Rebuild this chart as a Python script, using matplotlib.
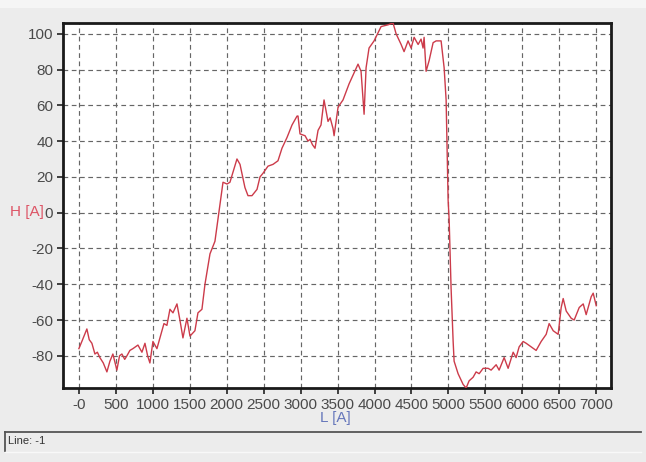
import matplotlib
matplotlib.use("Agg")
import matplotlib.pyplot as plt
from matplotlib.lines import Line2D
from matplotlib.patches import Rectangle

# Profile samples: position L [A] and height H [A]
L_vals = [0, 40, 108, 140, 176, 217, 250, 284, 330, 379, 420, 460, 514, 550, 582,
          620, 650, 690, 731, 799, 853, 894, 930,
          961, 1002, 1056, 1097, 1151, 1191, 1232, 1273, 1327, 1367, 1408, 1462,
          1503, 1570, 1611, 1665, 1706, 1774, 1841, 1950, 2004, 2044, 2139, 2180,
          2247, 2288, 2342, 2410, 2451, 2491, 2559, 2627, 2694, 2748, 2816, 2884,
          2952, 2965, 2992, 3060, 3100, 3128, 3160, 3195, 3236, 3276, 3317, 3371,
          3400, 3439, 3453, 3507, 3574, 3656, 3777, 3818, 3859, 3886, 3926, 3994,
          4089, 4184, 4251, 4292, 4360, 4400, 4454, 4495, 4536, 4590, 4630, 4657,
          4671, 4698, 4739, 4793, 4834, 4901, 4942, 4969, 4996, 5010, 5036, 5064,
          5077, 5131, 5199, 5240, 5280, 5334, 5375, 5416, 5470, 5537, 5578, 5646,
          5686, 5754, 5808, 5876, 5916, 5957, 6011, 6052, 6120, 6187, 6255, 6323,
          6363, 6418, 6485, 6526, 6553, 6594, 6661, 6702, 6770, 6824, 6864, 6932,
          6959, 7000]
H_vals = [-76, -72, -65, -71, -73, -79, -78, -81, -84, -89, -83, -79, -88, -80, -79,
          -82, -80, -77, -76, -74, -78, -73, -80,
          -84, -72, -76, -70, -62, -63, -54, -56, -51, -60, -70, -59,
          -69, -66, -56, -54, -40, -23, -16, 17, 16, 17, 30, 27,
          14, 9.5, 9.5, 13, 20, 22, 26, 27, 29, 36, 42, 49,
          54, 54, 44, 43, 40, 41, 38, 36, 46, 49, 63, 51,
          53, 47, 43, 59, 63, 72, 83, 79, 55, 81, 92, 96,
          104, 105, 106, 100, 94, 90, 96, 92, 98, 94, 97, 92,
          98, 79, 85, 95, 96, 96, 81, 63, 7, -4, -42, -72,
          -83, -90, -96, -98, -94, -92, -89, -90, -87, -87, -88, -85,
          -88, -81, -87, -78, -81, -75, -72, -73, -75, -77, -72, -68,
          -62, -66, -68, -53, -48, -55, -59, -60, -53, -51, -57, -47,
          -45, -52]

x_ticks = [0, 500, 1000, 1500, 2000, 2500, 3000, 3500, 4000, 4500, 5000,
           5500, 6000, 6500, 7000]
x_ticklabels = ["-0", "500", "1000", "1500", "2000", "2500", "3000", "3500",
                "4000", "4500", "5000", "5500", "6000", "6500", "7000"]
y_ticks = [-80, -60, -40, -20, 0, 20, 40, 60, 80, 100]
y_ticklabels = ["-80", "-60", "-40", "-20", "0", "20", "40", "60", "80", "100"]

BG = "#ececec"
plt.rcParams["font.family"] = ["Liberation Sans", "DejaVu Sans"]

fig = plt.figure(figsize=(6.46, 4.62), dpi=100, facecolor=BG)

# light strip along the top of the window
fig.patches.append(Rectangle((0, 1 - 8 / 462), 1, 8 / 462, transform=fig.transFigure,
                             facecolor="#f5f5f5", edgecolor="none", zorder=0))

ax = fig.add_axes([63 / 646, 1 - 388 / 462, 548 / 646, 365 / 462])
ax.set_facecolor("white")
ax.plot(L_vals, H_vals, color="#cc3b4a", linewidth=1.0, zorder=3)

ax.set_xlim(-215, 7200)
ax.set_ylim(-98, 106)
ax.set_xticks(x_ticks)
ax.set_xticklabels(x_ticklabels)
ax.set_yticks(y_ticks)
ax.set_yticklabels(y_ticklabels)
ax.tick_params(axis="both", direction="out", length=4, width=1.2, color="#222222",
               labelsize=11, labelcolor="#4a4a4a", pad=3)
ax.grid(True, color="#666666", linestyle=(0, (4, 3)), linewidth=0.85)
for sp in ax.spines.values():
    sp.set_linewidth(2.0)
    sp.set_color("#1a1a1a")

# axis titles sit on top of the tick labels
fig.text(10 / 646, 1 - 212 / 462, "H [A]", color="#dd5566", fontsize=11,
         ha="left", va="center")
fig.text(335 / 646, 1 - 418 / 462, "L [A]", color="#6677bb", fontsize=11,
         ha="center", va="center")

# status bar
fig.lines.append(Line2D([5 / 646, 641 / 646], [1 - 432 / 462, 1 - 432 / 462],
                        transform=fig.transFigure, color="#555555", linewidth=1.3))
fig.lines.append(Line2D([5 / 646, 5 / 646], [1 - 432 / 462, 1 - 451 / 462],
                        transform=fig.transFigure, color="#555555", linewidth=1.3))
fig.lines.append(Line2D([5 / 646, 641 / 646], [1 - 452 / 462, 1 - 452 / 462],
                        transform=fig.transFigure, color="#f8f8f8", linewidth=1.0))
fig.text(8 / 646, 1 - 441 / 462, "Line: -1", color="#333333", fontsize=8,
         ha="left", va="center")

fig.savefig("out.png", dpi=100, facecolor=BG)
